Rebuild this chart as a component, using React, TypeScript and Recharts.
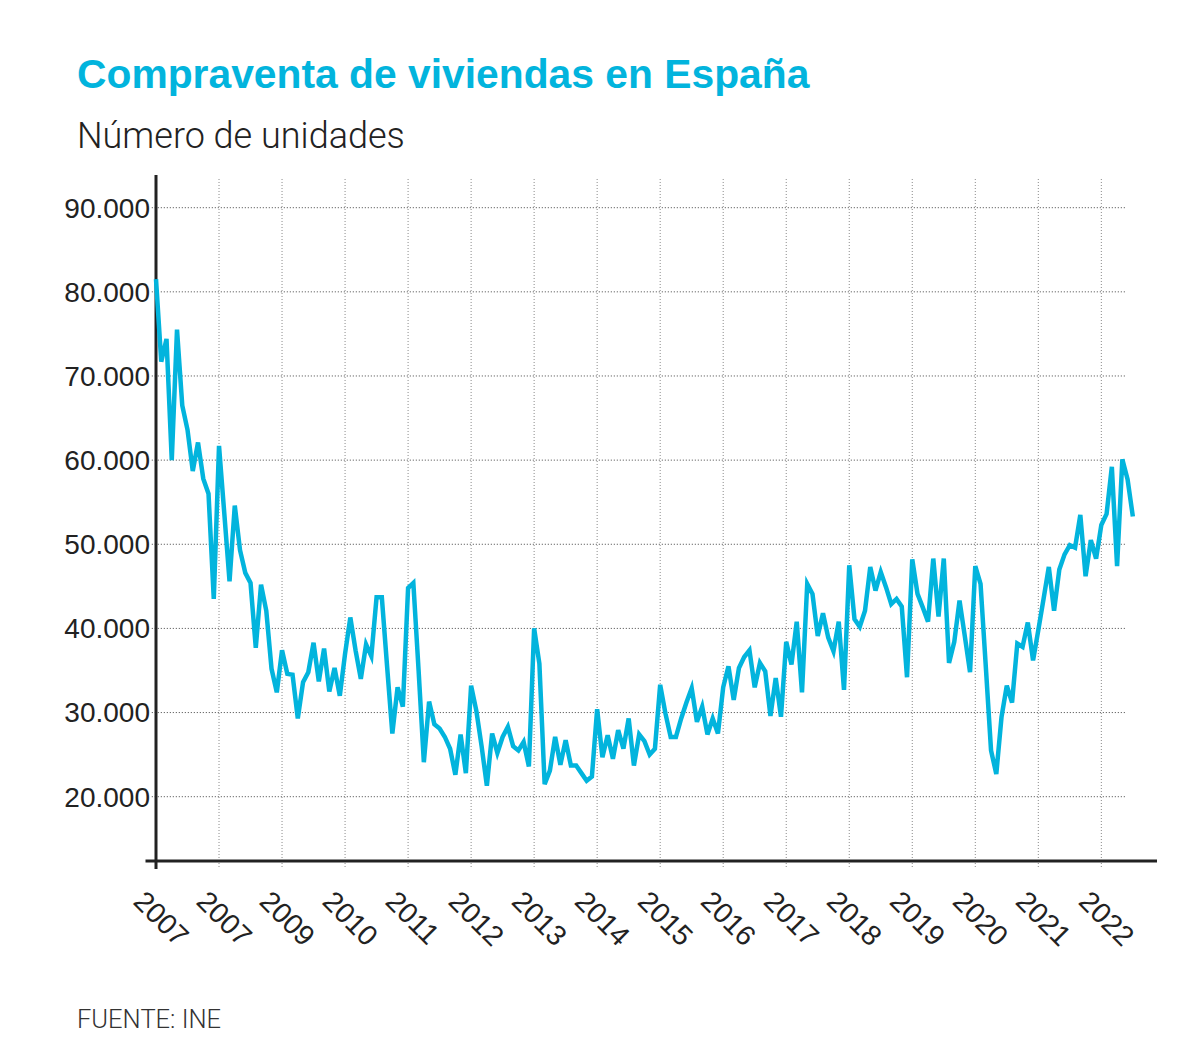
import { LineChart, Line, XAxis, YAxis, ReferenceLine } from "recharts"

// compraventas mensuales, enero 2007 - julio 2022
const sales2007 = [81500, 71700, 74400, 60000, 75500, 66500, 63600, 58700, 62100, 57800, 56000, 43500]
const sales2008 = [61700, 53700, 45600, 54600, 49300, 46600, 45400, 37700, 45200, 42100, 35200, 32400]
const sales2009 = [37400, 34600, 34500, 29300, 33600, 34800, 38300, 33700, 37600, 32500, 35300, 32000]
const sales2010 = [37000, 41300, 37400, 34000, 38100, 36700, 43700, 43700, 35500, 27500, 33000, 30700]
const sales2011 = [44800, 45400, 35000, 24100, 31300, 28600, 28100, 27100, 25700, 22600, 27400, 22800]
const sales2012 = [33200, 30200, 26000, 21300, 27500, 25200, 27100, 28300, 26000, 25500, 26500, 23600]
const sales2013 = [40000, 35800, 21500, 23100, 27100, 23800, 26700, 23700, 23700, 22800, 21900, 22400]
const sales2014 = [30400, 24700, 27300, 24500, 27900, 25700, 29300, 23700, 27400, 26600, 25000, 25700]
const sales2015 = [33300, 29900, 27100, 27100, 29300, 31200, 32900, 28900, 30700, 27400, 29300, 27500]
const sales2016 = [33000, 35500, 31500, 35300, 36600, 37400, 33000, 35900, 34900, 29600, 34100, 29500]
const sales2017 = [38400, 35700, 40800, 32400, 45300, 44100, 39100, 41800, 38900, 37300, 40800, 32700]
const sales2018 = [47500, 41100, 40200, 42100, 47300, 44500, 46700, 44900, 42900, 43500, 42600, 34200]
const sales2019 = [48200, 44100, 42500, 40800, 48300, 41400, 48300, 35900, 38400, 43300, 39100, 34800]
const sales2020 = [47400, 45300, 35500, 25500, 22700, 29500, 33200, 31200, 38200, 37800, 40700, 36200]
const sales2021 = [39800, 43500, 47300, 42100, 47000, 48800, 49900, 49600, 53500, 46200, 50500, 48300]
const sales2022 = [52300, 53600, 59200, 47400, 60100, 57700, 53300]

const yTicks = [20000, 30000, 40000, 50000, 60000, 70000, 80000, 90000]
const yearTicks = [0, 12, 24, 36, 48, 60, 72, 84, 96, 108, 120, 132, 144, 156, 168, 180]
const yearLabels = ["2007", "2007", "2009", "2010", "2011", "2012", "2013", "2014", "2015", "2016", "2017", "2018", "2019", "2020", "2021", "2022"]

const values = [
  ...sales2007, ...sales2008, ...sales2009, ...sales2010, ...sales2011, ...sales2012,
  ...sales2013, ...sales2014, ...sales2015, ...sales2016, ...sales2017, ...sales2018,
  ...sales2019, ...sales2020, ...sales2021, ...sales2022,
]
const data = values.map((v, i) => ({ i, v }))

const CYAN = "#02b4dd"
const FONT = "'Liberation Sans', Arial, sans-serif"
const Y_MIN = 12358
const Y_MAX = 93886
const AXIS_H = 60

const fmt = (n: number) => n.toLocaleString("de-DE")

function YearTick(props: any) {
  const { x, payload } = props
  // anclado a la línea del eje (parte superior del XAxis)
  const tx = x - 24
  const ty = props.y - (props.tickSize ?? 0) - (props.tickMargin ?? 0) + 42
  return (
    <text x={tx} y={ty} transform={`rotate(45 ${tx} ${ty})`} fontSize={28.5} fontFamily={FONT} fill="#222">
      {yearLabels[Math.round(payload.value / 12)]}
    </text>
  )
}

export default function App() {
  return (
    <div style={{ position: "absolute", left: 0, top: 0, width: 1200, height: 1059, background: "#fff" }}>
      <svg width={1200} height={1059} style={{ position: "absolute", left: 0, top: 0 }}>
        <text x={77} y={88} fontSize={40.8} fontWeight="bold" fontFamily={FONT} fill={CYAN}>
          Compraventa de viviendas en España
        </text>
        <text x={77} y={148} fontSize={36} fontWeight={300} fontFamily="Roboto, sans-serif" fill="#222">
          Número de unidades
        </text>
        <text x={77} y={1028} fontSize={25.5} fontWeight={300} fontFamily="Roboto, sans-serif" fill="#333">
          FUENTE: INE
        </text>
      </svg>
      <div style={{ position: "absolute", left: 0, top: 0 }}>
        <LineChart width={1200} height={1059} data={data} margin={{ top: 175, right: 43, bottom: 198 - AXIS_H, left: 0 }}>
          <XAxis
            dataKey="i"
            type="number"
            domain={[0, 190.6]}
            ticks={yearTicks}
            axisLine={false}
            tickLine={false}
            tickSize={0}
            tickMargin={0}
            height={AXIS_H}
            tick={<YearTick />}
            interval={0}
          />
          <YAxis
            type="number"
            domain={[Y_MIN, Y_MAX]}
            allowDataOverflow
            ticks={yTicks}
            width={156}
            axisLine={false}
            tickLine={false}
            tickSize={6}
            tickMargin={0}
            tickFormatter={fmt}
            tick={{ fontSize: 28, fontFamily: FONT, fill: "#222" }}
          />
          {yearTicks.slice(1).map((t) => (
            <ReferenceLine
              key={"v" + t}
              segment={[{ x: t, y: 93411 }, { x: t, y: 11407 }]}
              ifOverflow="visible"
              stroke="#888"
              strokeDasharray="1 2"
            />
          ))}
          {yTicks.map((t) => (
            <ReferenceLine
              key={"h" + t}
              segment={[{ x: -0.8, y: t }, { x: 184.6, y: t }]}
              ifOverflow="visible"
              stroke="#444"
              strokeDasharray="1 2"
            />
          ))}
          <ReferenceLine
            segment={[{ x: -2, y: Y_MIN }, { x: 190.6, y: Y_MIN }]}
            ifOverflow="visible"
            stroke="#222"
            strokeWidth={3}
          />
          <ReferenceLine
            segment={[{ x: 0, y: Y_MAX }, { x: 0, y: 11407 }]}
            ifOverflow="visible"
            stroke="#222"
            strokeWidth={3}
          />
          <Line
            dataKey="v"
            type="linear"
            stroke={CYAN}
            strokeWidth={4.5}
            dot={false}
            isAnimationActive={false}
          />
        </LineChart>
      </div>
    </div>
  )
}
